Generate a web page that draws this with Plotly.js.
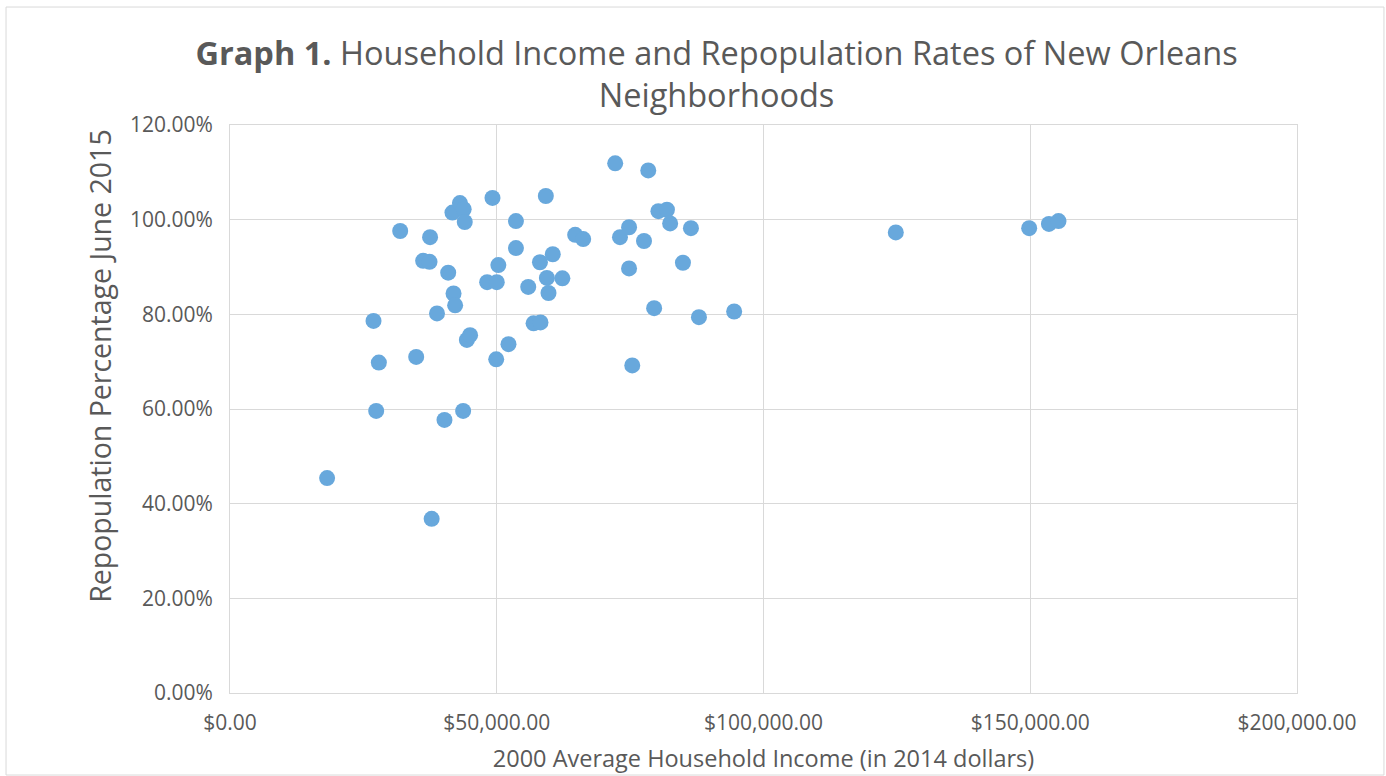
<!DOCTYPE html>
<html>
<head>
<meta charset="utf-8">
<script src="https://cdn.plot.ly/plotly-3.0.1.min.js"></script>
<style>
  html, body { margin: 0; padding: 0; background: #fff; }
  #chart { width: 1386px; height: 776px; }
</style>
</head>
<body>
<div id="chart"></div>
<script>
// 2000 average household income (2014 dollars), one entry per neighborhood
const income = [
  18200, 26900, 27900, 27400, 31900, 34900, 36200, 37400, 37500, 37800,
  38800, 40200, 40900, 41900, 42200, 41700, 43100, 43800, 44000, 44400,
  45000, 43700, 49200, 48200, 50000, 50300, 49900, 52200, 53600, 53600,
  55900, 56900, 58200, 58100, 59200, 59400, 59700, 60500, 62300, 64700,
  66200, 72200, 73100, 74800, 74800, 75400, 77600, 78400, 79500, 80300,
  81900, 82500, 84900, 86400, 87900, 94500, 124800, 149800, 153500, 155300
];

// repopulation share as of June 2015
const repop = [
  0.454, 0.786, 0.698, 0.596, 0.976, 0.710, 0.913, 0.911, 0.963, 0.368,
  0.802, 0.577, 0.888, 0.844, 0.819, 1.015, 1.035, 1.022, 0.995, 0.746,
  0.756, 0.596, 1.046, 0.868, 0.868, 0.904, 0.705, 0.737, 0.997, 0.940,
  0.858, 0.781, 0.783, 0.910, 1.050, 0.877, 0.845, 0.927, 0.876, 0.968,
  0.959, 1.119, 0.963, 0.984, 0.897, 0.692, 0.955, 1.104, 0.813, 1.018,
  1.021, 0.992, 0.909, 0.982, 0.794, 0.806, 0.973, 0.982, 0.991, 0.997
];

const textColor = "#595959";
const gridColor = "#d9d9d9";
const fontFamily = "'Open Sans', 'Noto Sans', sans-serif";

const trace = {
  x: income,
  y: repop,
  type: "scatter",
  mode: "markers",
  marker: { color: "#68a8dc", size: 16, line: { width: 0 } },
  hoverinfo: "x+y",
};

const layout = {
  width: 1386,
  height: 776,
  margin: { l: 230, r: 89, t: 125, b: 83 },
  paper_bgcolor: "#fff",
  plot_bgcolor: "#fff",
  showlegend: false,
  font: { family: fontFamily, color: textColor },
  title: {
    text: "<b>Graph 1.</b> Household Income and Repopulation Rates of New Orleans<br>Neighborhoods",
    font: { size: 32.5, color: textColor, family: fontFamily },
    xref: "container",
    x: 0.517,
    xanchor: "center",
    yref: "container",
    y: 0.916,
    yanchor: "top",
  },
  xaxis: {
    range: [0, 200000],
    dtick: 50000,
    tickformat: "$,.2f",
    ticks: "",
    ticklabelstandoff: 11,
    tickfont: { size: 21, color: textColor },
    showgrid: true,
    gridcolor: gridColor,
    zeroline: false,
    showline: true,
    mirror: true,
    linecolor: gridColor,
    linewidth: 1,
    title: {
      text: "2000 Average Household Income (in 2014 dollars)",
      font: { size: 23.5, color: textColor },
      standoff: 15,
    },
  },
  yaxis: {
    range: [0, 1.2],
    dtick: 0.2,
    tickformat: ".2%",
    ticks: "",
    ticklabelstandoff: 12,
    tickfont: { size: 21, color: textColor },
    showgrid: true,
    gridcolor: gridColor,
    zeroline: false,
    showline: true,
    mirror: true,
    linecolor: gridColor,
    linewidth: 1,
  },
  annotations: [
    {
      // y axis title, placed like the original (a little above the plot centre)
      text: "Repopulation Percentage June 2015",
      xref: "paper",
      yref: "paper",
      x: -0.122,
      y: 0.5757,
      xanchor: "center",
      yanchor: "middle",
      textangle: -90,
      showarrow: false,
      font: { size: 28.5, color: textColor },
    },
  ],
  shapes: [
    {
      type: "rect",
      xref: "paper",
      yref: "paper",
      x0: -0.2099,
      x1: 1.0815,
      y0: -0.1444,
      y1: 1.2077,
      line: { color: gridColor, width: 1 },
      fillcolor: "rgba(0,0,0,0)",
      layer: "below",
    },
  ],
};

Plotly.newPlot("chart", [trace], layout, { displayModeBar: false, responsive: false });
</script>
</body>
</html>
